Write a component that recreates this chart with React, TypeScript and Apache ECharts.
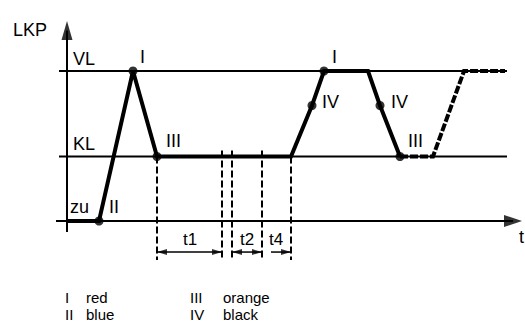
import React, { useEffect, useRef } from "react";
import * as echarts from "echarts";

// LKP levels (zu, KL, VL)
const levelNames = ["zu", "KL", "VL"];
const levelValues = [0, 43, 100];

// main profile (solid)
const profileT = [0, 32, 66, 90, 224, 245, 257, 301, 313, 333];
const profileLKP = [0, 0, 100, 43, 43, 77, 100, 100, 77, 43];

// continuation (dashed)
const contT = [333, 366, 397, 438];
const contLKP = [43, 43, 100, 100];

// marked points
const markT = [32, 66, 90, 245, 257, 313, 333];
const markLKP = [0, 100, 43, 77, 100, 77, 43];

// time markers (dashed verticals)
const markerT = [90, 155, 165, 195, 224];
const markerTop = [43, 47, 47, 47, 43];
const markerBottom = -26;

// intervals
const intervalNames = ["t1", "t2", "t4"];
const intervalStart = [90, 165, 204];
const intervalEnd = [155, 195, 224];
const intervalBothArrows = [true, true, false];
const intervalLevel = -20.7;

// legend
const legendCodes = ["I", "II", "III", "IV"];
const legendColors = ["red", "blue", "orange", "black"];

const FONT = '"Liberation Sans", Arial, sans-serif';

export default function App() {
  const ref = useRef<HTMLDivElement>(null);

  useEffect(() => {
    if (!ref.current) return;
    const chart = echarts.init(ref.current, undefined, { renderer: "svg" });

    const line = (data: number[][], width: number, type: any = "solid", z = 2) => ({
      type: "line",
      data,
      symbol: "none",
      silent: true,
      animation: false,
      z,
      lineStyle: { color: "#000", width, type, cap: "butt", join: "miter" },
    });

    const series: any[] = [];

    // reference level lines VL & KL
    levelValues.slice(1).forEach((v) => {
      series.push(line([[-8, v], [440, v]], 2));
    });
    // axes
    series.push(line([[-11, levelValues[0]], [446, levelValues[0]]], 2));
    series.push(line([[0, -7.3], [0, 127]], 2));

    // time markers
    markerT.forEach((t, i) => {
      series.push(line([[t, markerTop[i]], [t, markerBottom]], 2, [7, 3], 1));
    });

    // interval dimension lines
    const arrowItems: any[] = [];
    intervalNames.forEach((_, i) => {
      series.push(line([[intervalStart[i], intervalLevel], [intervalEnd[i], intervalLevel]], 1.5));
      arrowItems.push({ value: [intervalEnd[i] - 5, intervalLevel], symbolRotate: -90, symbolSize: [6, 10] });
      if (intervalBothArrows[i]) {
        arrowItems.push({ value: [intervalStart[i] + 5, intervalLevel], symbolRotate: 90, symbolSize: [6, 10] });
      }
    });
    // axis arrowheads
    arrowItems.push({ value: [446, 0], symbolRotate: -90, symbolSize: [12, 18] });
    arrowItems.push({ value: [0, 127], symbolRotate: 0, symbolSize: [11, 19] });

    series.push({
      type: "scatter",
      data: arrowItems,
      symbol: "triangle",
      itemStyle: { color: "#000" },
      silent: true,
      z: 4,
    });

    // profile
    series.push(line(profileT.map((t, i) => [t, profileLKP[i]]), 4, "solid", 3));
    series.push(line(contT.map((t, i) => [t, contLKP[i]]), 4, [8, 2], 3));

    // dots
    series.push({
      type: "scatter",
      data: markT.map((t, i) => [t, markLKP[i]]),
      symbol: "circle",
      symbolSize: 9,
      itemStyle: { color: "#000" },
      silent: true,
      z: 5,
    });

    const txt = (text: string, x: number, y: number, size = 18, align = "left") => ({
      type: "text",
      x,
      y,
      silent: true,
      style: { text, fill: "#000", font: `${size}px ${FONT}`, align, verticalAlign: "middle" },
    });

    const graphic: any[] = [
      txt("LKP", 13, 29.5),
      txt(levelNames[2], 73, 59),
      txt(levelNames[1], 73, 143.5),
      txt(levelNames[0], 70, 206.5),
      txt("I", 140, 57),
      txt("III", 166, 140.5),
      txt("II", 109, 206.5),
      txt("I", 332, 56.5),
      txt("IV", 322, 101.5),
      txt("IV", 391, 101.5),
      txt("III", 408, 140.5),
      txt("t", 519, 237),
      txt(intervalNames[0], 190, 239, 17, "center"),
      txt(intervalNames[1], 247, 239, 17, "center"),
      txt(intervalNames[2], 276, 239, 17, "center"),
    ];
    const legX = [65, 65, 190, 190];
    const legY = [297, 314, 297, 314];
    legendCodes.forEach((c, i) => {
      graphic.push(txt(c, legX[i], legY[i], 15));
      graphic.push(txt(legendColors[i], legX[i] + (i < 2 ? 21 : 33), legY[i], 15));
    });

    chart.setOption({
      animation: false,
      grid: { left: 0, right: 0, top: 0, bottom: 0 },
      xAxis: { type: "value", min: -67, max: 458, show: false },
      yAxis: { type: "value", min: -70.667, max: 147.333, show: false },
      series,
      graphic,
    });

    return () => chart.dispose();
  }, []);

  return (
    <div
      ref={ref}
      style={{ position: "fixed", left: 0, top: 0, width: 525, height: 327, background: "#fff" }}
    />
  );
}
